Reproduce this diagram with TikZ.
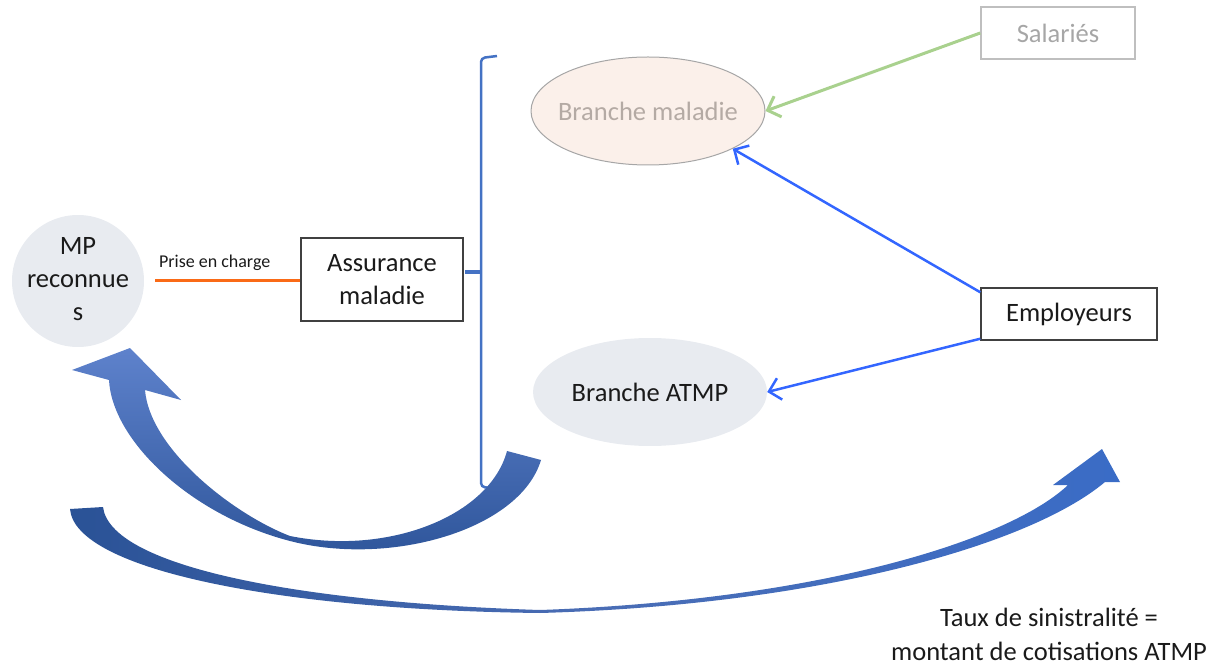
\documentclass[tikz,border=0pt]{standalone}
\usepackage{fontspec}
\setmainfont{Carlito}
\usetikzlibrary{shapes.geometric,arrows.meta,calc}
\definecolor{mpfill}{HTML}{E8EBF0}
\definecolor{bmfill}{HTML}{FBF0EA}
\definecolor{bmdraw}{HTML}{A6A6A6}
\definecolor{bmtext}{HTML}{B4AAA4}
\definecolor{salline}{HTML}{BFBFBF}
\definecolor{saltext}{HTML}{A6A6A6}
\definecolor{darkline}{HTML}{404040}
\definecolor{orangec}{HTML}{FA6A16}
\definecolor{greenc}{HTML}{A9D18E}
\definecolor{bluec}{HTML}{3366FF}
\definecolor{bracec}{HTML}{4472C4}
\definecolor{txtc}{HTML}{1A1A1A}
\definecolor{aoneTop}{HTML}{5E82CC}
\definecolor{aoneBot}{HTML}{2C5398}
\definecolor{atwoL}{HTML}{2A5296}
\definecolor{atwoM}{HTML}{4A6DB5}
\definecolor{atwoR}{HTML}{3A6CC6}
\begin{document}
\begin{tikzpicture}[x=1pt,y=-1pt,
  bigtxt/.style={font=\fontsize{26.5}{32}\selectfont, text=txtc},
  boxnode/.style={rectangle, draw=darkline, line width=1.5pt, inner sep=0pt, bigtxt},
  ellnode/.style={ellipse, minimum width=234pt, minimum height=108pt, inner sep=0pt, bigtxt},
  conn/.style={line width=2.5pt, arrows={-Straight Barb[length=11pt,width=22pt]}}]
\useasboundingbox (0,0) rectangle (1221,668);

% nodes
\node[circle, fill=mpfill, minimum size=132pt, inner sep=0pt] (mp) at (78,281) {};
\node[bigtxt, align=center, inner sep=0pt, font=\fontsize{26.5}{33}\selectfont] (mptext) at (78,279) {MP\\reconnue\\s};
\node[boxnode, minimum width=162pt, minimum height=83pt, align=center,
      font=\fontsize{26.5}{33}\selectfont] (am) at (382,279.5) {Assurance\\maladie};
\node[ellnode, fill=bmfill, draw=bmdraw, line width=1pt, text=bmtext] (bm) at (648,111) {\makebox[0pt][c]{Branche maladie}};
\node[ellnode, fill=mpfill] (bat) at (650,392) {\makebox[0pt][c]{Branche ATMP}};
\node[rectangle, draw=salline, line width=1.5pt, minimum width=154pt, minimum height=52pt,
      bigtxt, text=saltext] (sal) at (1058,33) {Salariés};
\node[boxnode, minimum width=176pt, minimum height=52pt] (emp) at (1069,314) {Employeurs};
\node[bigtxt, align=center, inner sep=0pt, font=\fontsize{26.5}{34}\selectfont] (taux) at (1049,634)
  {Taux de sinistralité =\\montant de cotisations ATMP};

% connectors
\draw[orangec, line width=3pt] ([xshift=11pt]mp.east) -- (am.west |- mp.east)
  node[pos=0.41, above=9pt, inner sep=0pt, font=\fontsize{18}{20}\selectfont, text=txtc] (pec) {Prise en charge};
\draw[conn, greenc, line width=3pt] (sal.west) -- (bm.east);
\draw[conn, bluec] ([yshift=-5pt]emp.north west) -- (bm.-24.6);
\draw[conn, bluec] ([yshift=2pt]emp.south west) -- (bat.east);

% brace
\draw[bracec, line width=2.5pt, rounded corners=4pt] (497,56) -- (481,58) -- (481,487) -- (492,488);
\draw[bracec, line width=3.5pt] (481,272) -- (465,272);

% big curved arrow 1 (back up to MP)
\shade[top color=aoneTop, bottom color=aoneBot]
  (109,380) .. controls (112,440) and (190,515) .. (290,541)
  .. controls (390,567) and (520,530) .. (541,460)
  -- (507,451)
  .. controls (490,515) and (390,556) .. (290,536)
  .. controls (235,515) and (150,450) .. (145,390)
  -- (181,400) -- (130,348) -- (72,370) -- cycle;

% big curved arrow 2 (to the right)
\shade[left color=atwoL, right color=atwoR, middle color=atwoM]
  (70,509) .. controls (75,570) and (280,610) .. (540,613)
  .. controls (820,605) and (1030,545) .. (1105,482)
  -- (1120,482) -- (1102,449) -- (1053,485) -- (1068,485)
  .. controls (1010,540) and (820,600) .. (540,610)
  .. controls (290,602) and (110,565) .. (103,507) -- cycle;
\end{tikzpicture}
\end{document}
